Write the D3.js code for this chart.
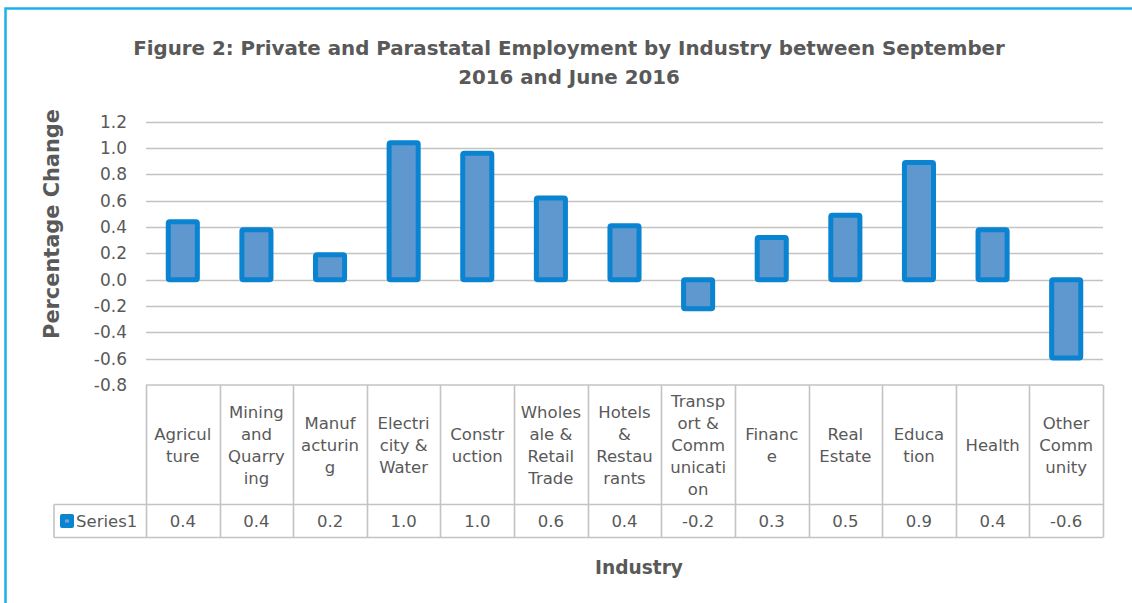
<!DOCTYPE html>
<html>
<head>
<meta charset="utf-8">
<script src="https://cdn.jsdelivr.net/npm/d3@7"></script>
<style>
  body { margin: 0; background: #fff; }
  svg { display: block; font-family: "Century Gothic", "DejaVu Sans", sans-serif; }
  .grid line { stroke: #c3c3c3; stroke-width: 1.6; }
  .tbl line { stroke: #c3c3c3; stroke-width: 1.6; }
  .tick-lbl { fill: #595959; font-size: 17px; }
  .cell-lbl { fill: #595959; font-size: 16.5px; }
  .ttl { fill: #595959; font-weight: bold; }
</style>
</head>
<body>
<div id="chart"></div>
<script type="text/javascript">

// data
var categories = ["Agriculture", "Mining and Quarrying", "Manufacturing", "Electricity & Water",
    "Construction", "Wholesale & Retail Trade", "Hotels & Restaurants", "Transport & Communication",
    "Finance", "Real Estate", "Education", "Health", "Other Community"];
// wrapped labels as printed in the data table
var categoryLines = [
    ["Agricul", "ture"], ["Mining", "and", "Quarry", "ing"], ["Manuf", "acturin", "g"],
    ["Electri", "city &", "Water"], ["Constr", "uction"], ["Wholes", "ale &", "Retail", "Trade"],
    ["Hotels", "&", "Restau", "rants"], ["Transp", "ort &", "Comm", "unicati", "on"],
    ["Financ", "e"], ["Real", "Estate"], ["Educa", "tion"], ["Health"], ["Other", "Comm", "unity"]
];
var series1 = [0.44, 0.38, 0.19, 1.04, 0.96, 0.62, 0.41, -0.22, 0.32, 0.49, 0.89, 0.38, -0.595];
var yTicks = [1.2, 1.0, 0.8, 0.6, 0.4, 0.2, 0.0, -0.2, -0.4, -0.6, -0.8];
var seriesName = "Series1";
var titleLines = ["Figure 2: Private and Parastatal Employment by Industry between September",
    "2016 and June 2016"];
var yTitle = "Percentage Change";
var xTitle = "Industry";

// plain hyphen for negatives, like the original
var fmt = d3.formatLocale({decimal: ".", thousands: ",", grouping: [3], currency: ["", ""], minus: "-"}).format(".1f");

var W = 1132, H = 603;
var svg = d3.select("#chart").append("svg")
    .attr("width", W)
    .attr("height", H);

// frame
svg.append("path")
    .attr("d", "M5.5," + H + "V8.5H" + W)
    .attr("fill", "none")
    .attr("stroke", "#1bb1e9")
    .attr("stroke-width", 2.5);

var left = 146, right = 1103;
var y = d3.scaleLinear().domain([-0.8, 1.2]).range([385, 121.7]);
var x = d3.scaleBand().domain(categories).range([left, right]);
var barW = x.bandwidth() * 0.395;

// title
var title = svg.append("g");
titleLines.forEach(function(t, i) {
    title.append("text")
        .attr("class", "ttl")
        .attr("x", 569)
        .attr("y", 55 + i * 29)
        .attr("text-anchor", "middle")
        .style("font-size", "20px")
        .text(t);
});
// fit the first line to the reference width
var tw = title.select("text").node().getComputedTextLength();
title.selectAll("text").style("font-size", (20 * 872 / tw) + "px");

// gridlines
svg.append("g").attr("class", "grid")
    .selectAll("line")
    .data(yTicks.slice(0, -1))
    .enter().append("line")
    .attr("x1", left).attr("x2", right)
    .attr("y1", function(d) { return Math.round(y(d)) + 0.5; })
    .attr("y2", function(d) { return Math.round(y(d)) + 0.5; });

// y tick labels
svg.append("g")
    .selectAll("text")
    .data(yTicks)
    .enter().append("text")
    .attr("class", "tick-lbl")
    .attr("x", 127)
    .attr("y", function(d) { return y(d); })
    .attr("dy", "0.36em")
    .attr("text-anchor", "end")
    .text(fmt);

// y title
var yt = svg.append("text")
    .attr("class", "ttl")
    .attr("transform", "translate(59,224) rotate(-90)")
    .attr("text-anchor", "middle")
    .style("font-size", "20px")
    .text(yTitle);
var yw = yt.node().getComputedTextLength();
yt.style("font-size", (20 * 230 / yw) + "px");

// bars
svg.append("g")
    .selectAll("rect")
    .data(series1)
    .enter().append("rect")
    .attr("x", function(d, i) { return x(categories[i]) + (x.bandwidth() - barW) / 2; })
    .attr("width", barW)
    .attr("y", function(d) { return y(Math.max(0, d)); })
    .attr("height", function(d) { return Math.abs(y(d) - y(0)); })
    .attr("rx", 1.5)
    .attr("fill", "#5f97cf")
    .attr("stroke", "#0a84d0")
    .attr("stroke-width", 5);

// data table
var rowTop = 385, rowMid = 504.5, rowBot = 537.5, legLeft = 54;
var tbl = svg.append("g").attr("class", "tbl");
tbl.append("line").attr("x1", left).attr("x2", right).attr("y1", rowTop).attr("y2", rowTop);
tbl.append("line").attr("x1", legLeft).attr("x2", right).attr("y1", rowMid).attr("y2", rowMid);
tbl.append("line").attr("x1", legLeft).attr("x2", right).attr("y1", rowBot).attr("y2", rowBot);
tbl.append("line").attr("x1", legLeft).attr("x2", legLeft).attr("y1", rowMid).attr("y2", rowBot);
tbl.selectAll("line.col")
    .data(categories.concat(["end"]))
    .enter().append("line")
    .attr("class", "col")
    .attr("x1", function(d, i) { return Math.round(left + i * x.bandwidth()) + 0.5; })
    .attr("x2", function(d, i) { return Math.round(left + i * x.bandwidth()) + 0.5; })
    .attr("y1", rowTop)
    .attr("y2", rowBot);

// category labels
var lineH = 22;
var cells = svg.append("g")
    .selectAll("text")
    .data(categoryLines)
    .enter().append("text")
    .attr("class", "cell-lbl")
    .attr("text-anchor", "middle")
    .attr("x", function(d, i) { return x(categories[i]) + x.bandwidth() / 2; })
    .attr("y", function(d) { return 445 - (d.length - 1) * lineH / 2; });
cells.each(function(d) {
    var t = d3.select(this);
    d.forEach(function(s, k) {
        t.append("tspan")
            .attr("x", t.attr("x"))
            .attr("dy", k == 0 ? "0.36em" : lineH)
            .text(s);
    });
});

// values row
svg.append("g")
    .selectAll("text")
    .data(series1)
    .enter().append("text")
    .attr("class", "cell-lbl")
    .attr("text-anchor", "middle")
    .attr("x", function(d, i) { return x(categories[i]) + x.bandwidth() / 2; })
    .attr("y", (rowMid + rowBot) / 2)
    .attr("dy", "0.36em")
    .text(fmt);

// legend key
svg.append("rect")
    .attr("x", 60).attr("y", 514)
    .attr("width", 14).attr("height", 14)
    .attr("rx", 2)
    .attr("fill", "#0a84d0");
svg.append("rect")
    .attr("x", 65).attr("y", 519.5)
    .attr("width", 4).attr("height", 3)
    .attr("fill", "#6fa6da");
svg.append("text")
    .attr("class", "cell-lbl")
    .attr("x", 76)
    .attr("y", (rowMid + rowBot) / 2)
    .attr("dy", "0.36em")
    .text(seriesName);

// x title
var xt = svg.append("text")
    .attr("class", "ttl")
    .attr("x", 639)
    .attr("y", 574)
    .attr("text-anchor", "middle")
    .style("font-size", "20px")
    .text(xTitle);
var xw = xt.node().getComputedTextLength();
xt.style("font-size", (20 * 88 / xw) + "px");

</script>
</body>
</html>
